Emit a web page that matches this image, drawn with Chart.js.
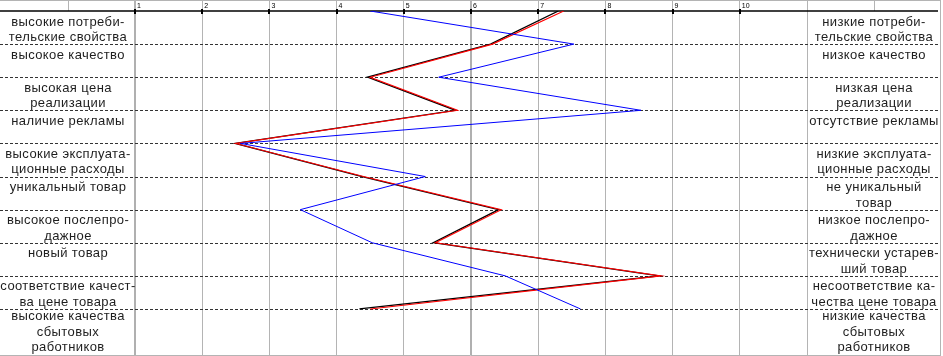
<!DOCTYPE html>
<html>
<head>
<meta charset="utf-8">
<script src="https://cdn.jsdelivr.net/npm/chart.js@4.4.0/dist/chart.umd.min.js"></script>
<style>
html,body{margin:0;padding:0;background:#fff;}
#wrap{width:943px;height:356px;position:relative;}
</style>
</head>
<body>
<div id="wrap"><canvas id="c" width="943" height="356"></canvas></div>
<script>
// scale ticks (top axis)
const tickValues = [1, 2, 3, 4, 5, 6, 7, 8, 9, 10, 11];
const tickLabels = ['1', '2', '3', '4', '5', '6', '7', '8', '9', '10', ''];
// row index of each factor (0 = top row)
const rowIndex = [0, 1, 2, 3, 4, 5, 6, 7, 8, 9];
// left (positive pole) labels
const leftLabels = [
  ['высокие потреби-', 'тельские свойства'],
  ['высокое качество'],
  ['высокая цена', 'реализации'],
  ['наличие рекламы'],
  ['высокие эксплуата-', 'ционные расходы'],
  ['уникальный товар'],
  ['высокое послепро-', 'дажное'],
  ['новый товар'],
  ['соответствие качест-', 'ва цене товара'],
  ['высокие качества', 'сбытовых', 'работников']
];
// right (negative pole) labels
const rightLabels = [
  ['низкие потреби-', 'тельские свойства'],
  ['низкое качество'],
  ['низкая цена', 'реализации'],
  ['отсутствие рекламы'],
  ['низкие эксплуата-', 'ционные расходы'],
  ['не уникальный', 'товар'],
  ['низкое послепро-', 'дажное'],
  ['технически устарев-', 'ший товар'],
  ['несоответствие ка-', 'чества цене товара'],
  ['низкие качества', 'сбытовых', 'работников']
];
// series values
const seriesBlack = [7.30, 6.29, 4.46, 5.77, 2.49, 4.38, 6.41, 5.44, 8.80, 4.34];
const seriesRed   = [7.38, 6.32, 4.50, 5.80, 2.50, 4.40, 6.45, 5.47, 8.83, 4.50];
const seriesBlue  = [4.50, 7.53, 5.52, 8.53, 2.57, 5.32, 3.46, 4.53, 6.51, 7.63];

const toPts = arr => arr.map((v, i) => ({x: v, y: rowIndex[i]}));
const GRID = '#b4b4b4';
const FONT = '"Liberation Sans", Arial, sans-serif';

const decor = {
  id: 'decor',
  beforeDatasetsDraw(chart) {
    const ctx = chart.ctx;
    const xs = chart.scales.x, ys = chart.scales.y;
    const top = chart.chartArea.top, bottom = chart.chartArea.bottom;
    const left = chart.chartArea.left, right = chart.chartArea.right;
    const colW = xs.getPixelForValue(2) - xs.getPixelForValue(1);
    ctx.save();
    // frame lines (gray)
    ctx.strokeStyle = GRID;
    ctx.lineWidth = 1;
    ctx.beginPath();
    ctx.moveTo(0, 0.5); ctx.lineTo(941, 0.5);
    ctx.moveTo(0, bottom + 0.5); ctx.lineTo(941, bottom + 0.5);
    ctx.moveTo(940.5, 0); ctx.lineTo(940.5, bottom + 1);
    ctx.moveTo(Math.round(left - colW) + 0.5, 0); ctx.lineTo(Math.round(left - colW) + 0.5, top);
    ctx.moveTo(Math.round(right + colW) + 0.5, 0); ctx.lineTo(Math.round(right + colW) + 0.5, top);
    ctx.stroke();
    // dashed row separators across full width
    ctx.strokeStyle = '#333';
    ctx.setLineDash([3, 2]);
    ctx.beginPath();
    for (let i = 1; i < rowIndex.length; i++) {
      const y = Math.round(ys.getPixelForValue(rowIndex[i])) + 0.5;
      ctx.moveTo(0, y); ctx.lineTo(940, y);
    }
    ctx.stroke();
    ctx.setLineDash([]);
    // axis line
    ctx.strokeStyle = '#000';
    ctx.lineWidth = 1.5;
    ctx.beginPath();
    ctx.moveTo(0, top); ctx.lineTo(938, top);
    ctx.stroke();
    // small black tick marks
    ctx.lineWidth = 2;
    ctx.beginPath();
    for (let i = 0; i < 10; i++) {
      const x = Math.round(xs.getPixelForValue(tickValues[i]));
      ctx.moveTo(x, top - 2); ctx.lineTo(x, top + 3);
    }
    ctx.stroke();
    // labels
    ctx.fillStyle = '#1e1e1e';
    ctx.font = '13px ' + FONT;
    if ('letterSpacing' in ctx) ctx.letterSpacing = '0.4px';
    ctx.textAlign = 'center';
    ctx.textBaseline = 'alphabetic';
    const lc = left / 2 + 0.5, rc = (right + 941) / 2;
    for (let i = 0; i < rowIndex.length; i++) {
      const y0 = ys.getPixelForValue(rowIndex[i]);
      const lines = leftLabels[i];
      const off = lines.length > 2 ? 11.5 : 14.5;
      lines.forEach((t, k) => ctx.fillText(t, lc, y0 + off + k * 15.5));
      const rl = rightLabels[i];
      const off2 = rl.length > 2 ? 11.5 : 14.5;
      rl.forEach((t, k) => ctx.fillText(t, rc, y0 + off2 + k * 15.5));
    }
    ctx.restore();
  }
};

new Chart(document.getElementById('c'), {
  type: 'scatter',
  data: {
    datasets: [
      {data: toPts(seriesBlack), borderColor: '#000000', borderWidth: 1.3, showLine: true, pointRadius: 0, order: 3},
      {data: toPts(seriesRed), borderColor: '#ff0000', borderWidth: 1.1, showLine: true, pointRadius: 0, order: 2},
      {data: toPts(seriesBlue), borderColor: '#0000ff', borderWidth: 1, showLine: true, pointRadius: 0, order: 1}
    ]
  },
  options: {
    responsive: false,
    animation: false,
    devicePixelRatio: 1,
    layout: {padding: {left: 135, right: 136, top: 0, bottom: 1}},
    plugins: {legend: {display: false}, tooltip: {enabled: false}},
    scales: {
      x: {
        type: 'linear',
        position: 'top',
        min: 1, max: 11,
        afterBuildTicks(scale) { scale.ticks = tickValues.map(v => ({value: v})); },
        afterFit(scale) { scale.height = 11; },
        ticks: {
          align: 'start',
          padding: -10,
          labelOffset: 2,
          font: {size: 7, family: FONT},
          color: '#000',
          callback: (v, i) => tickLabels[i]
        },
        grid: {
          color: ctx => (ctx.tick && (ctx.tick.value === 1 || ctx.tick.value === 6)) ? '#b0b0b0' : GRID,
          lineWidth: ctx => (ctx.tick && (ctx.tick.value === 1 || ctx.tick.value === 6)) ? 2 : 1,
          tickLength: 11,
          tickColor: GRID
        },
        border: {display: false}
      },
      y: {
        type: 'linear',
        reverse: true,
        min: 0, max: 10.39,
        afterFit(scale) { scale.width = 0; },
        ticks: {display: false},
        grid: {display: false},
        border: {display: false}
      }
    }
  },
  plugins: [decor]
});
</script>
</body>
</html>
